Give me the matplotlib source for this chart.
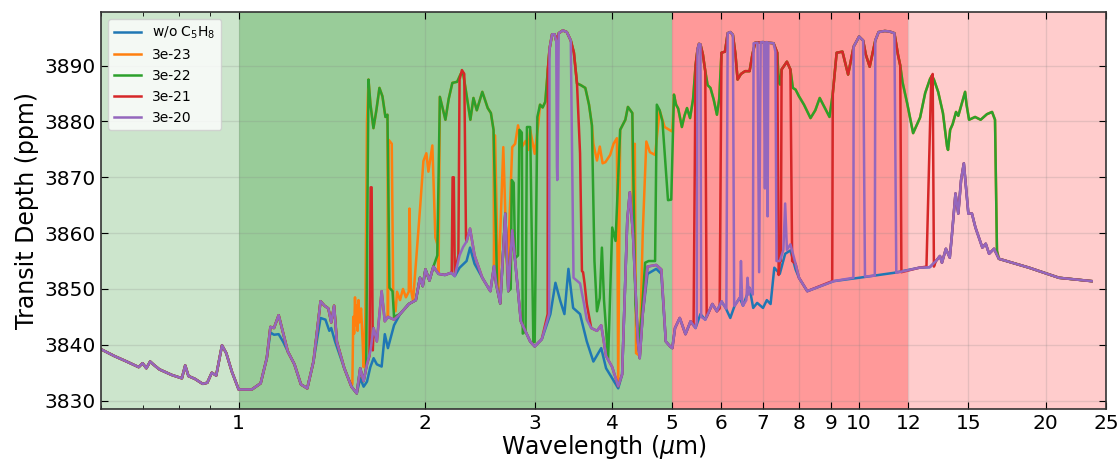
import numpy as np
import matplotlib
matplotlib.use('Agg')
import matplotlib.pyplot as plt
from matplotlib.ticker import NullFormatter

# spectrum without C5H8 (blue), (wavelength um, ppm)
base_pts = [
    (0.60, 3839.2), (0.63, 3838.0), (0.66, 3837.0), (0.69, 3836.0), (0.70, 3836.7),
    (0.71, 3835.8), (0.72, 3837.0), (0.73, 3836.4), (0.745, 3835.6), (0.78, 3834.6),
    (0.81, 3834.0), (0.82, 3836.3), (0.83, 3834.4), (0.85, 3833.9), (0.875, 3833.0),
    (0.89, 3833.2), (0.905, 3835.0), (0.92, 3834.5), (0.94, 3839.9), (0.955, 3838.5),
    (0.975, 3835.2), (1.0, 3832.0), (1.05, 3832.0), (1.085, 3833.1), (1.11, 3837.6),
    (1.125, 3842.2), (1.14, 3841.8), (1.16, 3841.9), (1.18, 3840.5), (1.2, 3838.8),
    (1.23, 3836.5), (1.26, 3832.9), (1.29, 3832.2), (1.32, 3837.0), (1.355, 3844.8),
    (1.38, 3844.5), (1.40, 3842.5), (1.41, 3843.0), (1.43, 3840.6), (1.48, 3835.8),
    (1.52, 3832.5), (1.55, 3831.3), (1.57, 3834.0), (1.59, 3832.5), (1.61, 3833.4),
    (1.63, 3836.0), (1.65, 3837.6), (1.67, 3836.5), (1.70, 3836.1), (1.72, 3841.9),
    (1.74, 3839.4), (1.78, 3843.5), (1.82, 3845.5), (1.88, 3847.3), (1.93, 3848.0),
    (1.96, 3852.0), (1.98, 3850.5), (2.0, 3853.5), (2.03, 3851.5), (2.06, 3854.0),
    (2.10, 3852.7), (2.15, 3852.5), (2.20, 3852.9), (2.23, 3852.3), (2.27, 3853.8),
    (2.33, 3855.0), (2.36, 3857.4), (2.40, 3854.5), (2.47, 3852.0), (2.545, 3849.6),
    (2.58, 3854.1), (2.60, 3850.9), (2.64, 3847.4), (2.69, 3863.5), (2.72, 3849.6),
    (2.76, 3860.5), (2.79, 3855.0), (2.85, 3844.2), (2.95, 3840.6), (3.0, 3839.7),
    (3.08, 3841.0), (3.18, 3845.5), (3.24, 3851.1), (3.30, 3847.8), (3.35, 3845.5),
    (3.40, 3853.6), (3.46, 3846.6), (3.55, 3845.5), (3.64, 3840.6), (3.73, 3837.0),
    (3.84, 3839.4), (3.91, 3835.8), (4.0, 3834.0), (4.09, 3832.2), (4.15, 3834.7),
    (4.23, 3862.3), (4.27, 3867.3), (4.32, 3859.9), (4.40, 3840.6), (4.43, 3837.6),
    (4.48, 3845.5), (4.56, 3852.7), (4.71, 3853.6), (4.80, 3852.7), (4.88, 3840.6),
    (4.96, 3839.7), (5.0, 3839.4), (5.05, 3843.0), (5.14, 3844.8), (5.25, 3841.9),
    (5.35, 3844.2), (5.45, 3843.0), (5.55, 3845.5), (5.65, 3844.5), (5.8, 3847.3),
    (5.9, 3846.0), (6.0, 3847.8), (6.1, 3846.5), (6.2, 3844.8), (6.3, 3847.0),
    (6.42, 3848.4), (6.5, 3847.0), (6.66, 3850.2), (6.75, 3846.6), (6.85, 3847.5),
    (7.0, 3846.6), (7.1, 3848.0), (7.2, 3847.3), (7.3, 3853.8), (7.45, 3852.7),
    (7.6, 3856.3), (7.75, 3856.9), (7.9, 3853.5), (8.0, 3852.0), (8.25, 3849.6),
    (9.1, 3851.4), (10.0, 3852.0), (11.4, 3852.9), (12.5, 3853.8), (13.0, 3853.9),
    (13.3, 3855.0), (13.5, 3855.9), (13.6, 3854.7), (13.8, 3857.2), (14.0, 3855.6),
    (14.1, 3859.2), (14.3, 3867.1), (14.45, 3863.5), (14.6, 3869.5), (14.75, 3872.5),
    (14.85, 3868.9), (15.0, 3863.5), (15.2, 3863.5), (15.4, 3861.0), (15.8, 3857.4),
    (16.0, 3858.1), (16.2, 3856.3), (16.5, 3857.2), (16.8, 3855.4), (18.8, 3853.8),
    (21.0, 3852.0), (23.7, 3851.4),
]

# where the lower part of the C5H8 curves sits above the blue one
low_diffs = [
    [(1.125, 3843.2), (1.14, 3843.0), (1.16, 3845.3), (1.18, 3842.0)],
    [(1.355, 3847.8), (1.375, 3847.0), (1.395, 3846.5), (1.41, 3844.0), (1.425, 3847.0), (1.44, 3840.5)],
    [(1.57, 3835.8), (1.59, 3833.5), (1.61, 3836.5), (1.63, 3838.8), (1.65, 3843.0),
     (1.67, 3840.6), (1.70, 3849.6), (1.72, 3844.2), (1.74, 3845.0), (1.78, 3844.5)],
    [(2.27, 3856.0), (2.30, 3857.5), (2.33, 3858.5), (2.36, 3860.8), (2.40, 3856.0)],
    [(3.55, 3851.0), (3.60, 3847.5), (3.64, 3844.5), (3.70, 3843.0), (3.78, 3842.5),
     (3.84, 3843.5), (3.91, 3838.0), (4.0, 3836.0), (4.09, 3832.6)],
    [(4.56, 3854.0), (4.71, 3854.3), (4.80, 3853.5)],
    [(6.43, 3848.2), (6.45, 3855.0), (6.48, 3847.5)],
    [(6.58, 3848.0), (6.61, 3852.0), (6.64, 3849.0)],
    [(7.3, 3855.5), (7.45, 3855.0), (7.55, 3857.0), (7.6, 3865.3), (7.65, 3857.0),
     (7.75, 3858.0), (7.9, 3854.5)],
]

# 3e-22 (green) upper curve
green_pts = [
    (1.605, 3836.0), (1.619, 3887.5), (1.631, 3883.0), (1.649, 3878.8), (1.667, 3882.0),
    (1.686, 3886.0), (1.705, 3884.5), (1.724, 3880.8), (1.737, 3881.2), (1.750, 3850.2),
    (1.77, 3849.6), (1.78, 3845.0),
    (2.09, 3856.0), (2.11, 3884.4), (2.13, 3882.5), (2.154, 3880.3), (2.18, 3884.0),
    (2.21, 3886.9), (2.25, 3887.1), (2.28, 3888.5), (2.30, 3888.7), (2.34, 3883.3),
    (2.363, 3880.3), (2.39, 3884.2), (2.42, 3882.0), (2.47, 3885.3), (2.52, 3882.4),
    (2.55, 3881.5), (2.575, 3878.5), (2.61, 3850.2),
    (2.745, 3850.0), (2.755, 3869.5), (2.775, 3869.0), (2.79, 3855.5), (2.82, 3856.0),
    (2.835, 3878.5), (2.86, 3878.0), (2.87, 3842.0), (2.90, 3842.5), (2.915, 3879.0),
    (2.95, 3879.0), (2.985, 3840.5), (3.0, 3840.5), (3.03, 3880.8), (3.06, 3883.0),
    (3.09, 3882.5), (3.12, 3883.5), (3.15, 3889.3), (3.17, 3893.0), (3.20, 3895.6),
    (3.23, 3895.6), (3.25, 3894.4), (3.28, 3895.8), (3.33, 3896.3), (3.38, 3896.0),
    (3.43, 3894.5), (3.47, 3892.3), (3.51, 3886.8), (3.56, 3886.5), (3.62, 3886.0),
    (3.67, 3883.0), (3.71, 3879.3), (3.745, 3855.0), (3.78, 3846.0), (3.82, 3848.4),
    (3.85, 3857.4), (3.88, 3848.0), (3.94, 3837.5), (4.0, 3861.0), (4.05, 3858.6),
    (4.12, 3878.5), (4.2, 3880.3), (4.24, 3882.6), (4.31, 3881.5), (4.36, 3847.3),
    (4.41, 3840.0), (4.46, 3845.0), (4.52, 3854.7), (4.58, 3855.0), (4.69, 3855.0),
    (4.72, 3883.0), (4.77, 3882.0), (4.82, 3880.0), (4.89, 3870.0), (4.92, 3865.9),
    (4.98, 3866.0), (5.03, 3884.8), (5.07, 3883.0), (5.11, 3882.3), (5.18, 3879.0),
    (5.23, 3881.0), (5.28, 3882.4), (5.34, 3880.6), (5.40, 3884.0), (5.45, 3890.0),
    (5.49, 3892.9), (5.52, 3893.9), (5.55, 3893.8), (5.60, 3892.0), (5.65, 3889.0),
    (5.70, 3886.5), (5.76, 3886.0), (5.83, 3883.9), (5.90, 3881.2), (5.95, 3884.0),
    (6.0, 3892.3), (6.08, 3892.5), (6.14, 3895.8), (6.20, 3896.0), (6.26, 3895.5),
    (6.32, 3892.0), (6.37, 3887.5), (6.45, 3888.5), (6.55, 3889.0), (6.66, 3889.0),
    (6.73, 3892.0), (6.8, 3894.1), (7.0, 3894.2), (7.15, 3894.1), (7.28, 3894.0),
    (7.38, 3892.3), (7.42, 3887.0), (7.46, 3886.6), (7.5, 3889.3), (7.65, 3890.7),
    (7.75, 3889.3), (7.82, 3886.0), (7.9, 3885.7), (8.0, 3884.5), (8.15, 3883.0),
    (8.35, 3880.6), (8.5, 3882.0), (8.64, 3884.2), (8.8, 3882.5), (8.96, 3880.8),
    (9.07, 3885.0), (9.2, 3892.3), (9.4, 3892.5), (9.6, 3888.4), (9.8, 3893.4),
    (10.0, 3895.2), (10.15, 3894.5), (10.25, 3892.0), (10.4, 3889.8), (10.55, 3893.0),
    (10.62, 3894.5), (10.75, 3896.0), (11.0, 3896.2), (11.2, 3896.1), (11.4, 3895.8),
    (11.55, 3892.0), (11.65, 3890.0), (11.75, 3887.0), (11.95, 3883.3), (12.22, 3877.9),
    (12.54, 3880.7), (12.78, 3885.1), (13.01, 3887.6), (13.1, 3888.2), (13.2, 3887.5),
    (13.41, 3885.3), (13.65, 3881.5), (13.86, 3875.5), (13.91, 3874.9), (14.02, 3878.5),
    (14.15, 3879.5), (14.33, 3881.7), (14.45, 3881.0), (14.65, 3883.3), (14.82, 3885.3),
    (14.9, 3883.0), (15.04, 3880.3), (15.38, 3880.8), (15.7, 3880.3), (16.07, 3881.3),
    (16.38, 3881.7), (16.56, 3880.3), (16.68, 3856.8),
]
green_ranges = [(1.60, 1.79), (2.08, 2.62), (2.74, 16.7)]

# 3e-23 (orange) where it leaves the green curve
orange_own = [
    [(1.525, 3833.0), (1.53, 3845.0), (1.535, 3842.0), (1.54, 3848.5), (1.545, 3843.5),
     (1.55, 3847.0), (1.555, 3842.5), (1.56, 3848.0), (1.565, 3844.0), (1.575, 3846.5),
     (1.585, 3840.0), (1.59, 3836.0), (1.60, 3845.0), (1.61, 3880.0)],
    [(1.745, 3876.7), (1.765, 3876.0), (1.775, 3848.0), (1.79, 3846.0), (1.80, 3849.5),
     (1.82, 3848.0), (1.84, 3850.0), (1.86, 3848.5), (1.88, 3849.5), (1.885, 3864.4),
     (1.895, 3850.0), (1.91, 3847.8), (1.935, 3856.0), (1.963, 3865.3), (1.985, 3872.9),
     (2.007, 3874.3), (2.022, 3871.0), (2.052, 3875.7), (2.075, 3859.2), (2.09, 3858.0)],
    [(2.59, 3877.5), (2.62, 3849.5), (2.67, 3875.4), (2.71, 3852.0), (2.76, 3875.4),
     (2.79, 3876.0), (2.82, 3879.3), (2.86, 3875.4), (2.90, 3876.5), (2.93, 3874.9),
     (2.95, 3878.5), (3.0, 3874.2), (3.04, 3879.5)],
    [(3.73, 3876.0), (3.78, 3873.0), (3.82, 3875.5), (3.86, 3872.5), (3.9, 3872.7),
     (3.97, 3874.0), (4.02, 3876.0), (4.07, 3877.0)],
    [(4.35, 3876.0), (4.37, 3838.5), (4.43, 3838.0), (4.48, 3860.0), (4.54, 3876.4),
     (4.60, 3874.5), (4.69, 3874.0), (4.77, 3882.0), (4.86, 3879.0), (4.96, 3878.4),
     (5.0, 3878.2)],
]
orange_green_ranges = [(1.615, 1.737), (2.11, 2.575), (3.06, 3.71), (4.12, 4.31), (5.03, 16.7)]

# 3e-21 (red): narrow spikes of its own
red_spikes = [
    [(1.625, 3838.0), (1.632, 3868.2), (1.638, 3868.2), (1.645, 3839.0)],
    [(2.205, 3853.0), (2.212, 3870.0), (2.222, 3870.0), (2.23, 3853.0)],
    [(2.26, 3856.0), (2.27, 3887.5), (2.29, 3889.2), (2.31, 3888.5), (2.325, 3859.0)],
    [(12.84, 3854.0), (13.07, 3887.8), (13.14, 3888.5), (13.2, 3854.0)],
]
red_tail_35 = [(3.55, 3874.3), (3.575, 3853.2), (3.59, 3853.0), (3.61, 3851.0), (3.64, 3847.3)]
# red stretches on the green curve: (start foot, green range, end foot)
red_blocks = [
    ((5.41, 3843.5), (5.45, 5.65), (5.68, 3845.0)),
    ((5.96, 3846.5), (6.0, 7.38), (7.42, 3852.5)),
    ((7.48, 3855.0), (7.5, 7.75), (7.8, 3855.0)),
    ((9.05, 3851.4), (9.07, 11.65), (11.7, 3853.0)),
]

# 3e-20 (purple)
purple_dip_33 = [(3.258, 3872.0), (3.262, 3869.5), (3.268, 3875.0)]
purple_comb_7 = [
    (6.74, 3849.0), (6.76, 3894.0), (6.86, 3894.1), (6.9, 3853.0), (6.94, 3894.2),
    (7.02, 3894.2), (7.05, 3868.0), (7.08, 3894.2), (7.1, 3894.2), (7.12, 3863.0),
    (7.14, 3894.1), (7.28, 3894.0), (7.33, 3892.5), (7.36, 3855.0),
]
purple_blocks = [
    ((5.475, 3844.0), (5.49, 5.55), (5.565, 3845.0)),
    ((6.11, 3846.5), (6.14, 6.26), (6.29, 3847.0)),
    ((9.79, 3852.0), (9.8, 10.15), (10.22, 3852.2)),
    ((10.6, 3852.4), (10.62, 11.4), (11.48, 3852.9)),
]

labels = ['w/o C$_5$H$_8$', '3e-23', '3e-22', '3e-21', '3e-20']
colors = ['C0', 'C1', 'C2', 'C3', 'C4']
xticks = [1, 2, 3, 4, 5, 6, 7, 8, 9, 10, 12, 15, 20, 25]


def seg(pts, lo, hi):
    return [p for p in pts if lo <= p[0] <= hi]


def block(pts, foot_a, rng, foot_b):
    out = [foot_a] if foot_a else []
    out += seg(pts, *rng)
    if foot_b:
        out.append(foot_b)
    return out


def build(low, pieces):
    # low curve, with the given pieces put in place of it over their spans
    pieces = [p for p in pieces if p]
    keep = []
    for w, v in low:
        if not any(min(q[0] for q in p) <= w <= max(q[0] for q in p) for p in pieces):
            keep.append((w, v))
    for p in pieces:
        keep += p
    keep.sort(key=lambda t: t[0])
    arr = np.array(keep)
    return arr[:, 0], arr[:, 1]


low_pts = list(zip(*build(base_pts, low_diffs)))
blue = build(base_pts, [])
green = build(low_pts, [seg(green_pts, a, b) for a, b in green_ranges])
orange = build(low_pts, orange_own + [seg(green_pts, a, b) for a, b in orange_green_ranges])
red = build(low_pts, red_spikes
            + [[(3.148, 3845.5)] + seg(green_pts, 3.15, 3.51) + red_tail_35]
            + [block(green_pts, *b) for b in red_blocks])
purple = build(low_pts, [[(3.165, 3845.5)] + seg(green_pts, 3.17, 3.25) + purple_dip_33
                         + seg(green_pts, 3.28, 3.43) + [(3.465, 3852.0)]]
               + [purple_comb_7]
               + [block(green_pts, *b) for b in purple_blocks])

fig, ax = plt.subplots(figsize=(11.2, 4.61), dpi=100)
fig.subplots_adjust(left=0.0902, right=0.9875, top=0.974, bottom=0.1128)

ax.axvspan(0.6, 1, color='green', alpha=0.2, lw=0)
ax.axvspan(1, 5, color='green', alpha=0.4, lw=0)
ax.axvspan(5, 12, color='red', alpha=0.4, lw=0)
ax.axvspan(12, 25, color='red', alpha=0.2, lw=0)

for (w, v), lab, c in zip([blue, orange, green, red, purple], labels, colors):
    ax.plot(w, v, color=c, lw=1.8, label=lab)

ax.set_xscale('log')
ax.set_xlim(0.6, 25)
ax.set_ylim(3828.5, 3899.6)
ax.set_xticks(xticks)
ax.set_xticklabels([str(t) for t in xticks])
ax.xaxis.set_minor_formatter(NullFormatter())
ax.tick_params(which='both', direction='in', top=True, right=True, labelsize=14.5)
ax.tick_params(which='major', length=5)
ax.tick_params(which='minor', length=3)
ax.grid(True, which='major', color='gray', alpha=0.2, lw=1)
for s in ax.spines.values():
    s.set_color('#333333')
    s.set_linewidth(1.2)

ax.set_xlabel('Wavelength ($\\mu$m)', fontsize=17, labelpad=0)
ax.set_ylabel('Transit Depth (ppm)', fontsize=17)
ax.legend(loc='upper left', fontsize=10)

fig.savefig('out.png', dpi=100)
